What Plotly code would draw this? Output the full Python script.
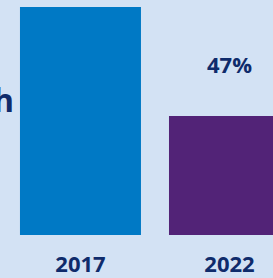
import plotly.graph_objects as go

categories = ["2017", "2022"]
values = [90, 47]
bar_colors = ["#0079c5", "#522377"]
value_labels = ["", "47%"]
side_text = "h"

NAVY = "#0f2b6b"
BG = "#d3e2f4"
FONT = "Open Sans"

fig = go.Figure(
    go.Bar(
        x=[0, 1],
        y=values,
        width=0.812,
        marker=dict(color=bar_colors, line=dict(width=0)),
        hoverinfo="skip",
    )
)

for i, lab in enumerate(value_labels):
    if lab:
        fig.add_annotation(
            x=i, y=values[i], xref="x", yref="y",
            text=f"<b>{lab}</b>", showarrow=False,
            yanchor="bottom", yshift=35,
            font=dict(family=FONT, size=22, color=NAVY),
        )

fig.add_annotation(
    x=16 / 273, y=0.577, xref="paper", yref="paper",
    text=f"<b>{side_text}</b>", showarrow=False,
    xanchor="right", yanchor="middle", xshift=0,
    font=dict(family=FONT, size=32, color=NAVY),
)

fig.update_layout(
    width=273, height=278,
    margin=dict(l=0, r=0, t=0, b=39),
    paper_bgcolor=BG, plot_bgcolor=BG,
    showlegend=False,
    xaxis=dict(
        range=[-0.540, 1.292],
        tickmode="array", tickvals=[0, 1],
        ticktext=[f"<b>{c}</b>" for c in categories],
        tickfont=dict(family=FONT, size=22, color=NAVY),
        showgrid=False, zeroline=False, showline=False,
        ticks="", ticklabelstandoff=14,
    ),
    yaxis=dict(range=[0, 92.8], visible=False, showgrid=False, zeroline=False),
)

fig.write_html(
    "out.html",
    config={"displayModeBar": False, "responsive": False},
    post_script=(
        "document.body.style.margin='0';"
        "document.body.style.overflow='hidden';"
        f"document.body.style.background='{BG}';"
    ),
)
